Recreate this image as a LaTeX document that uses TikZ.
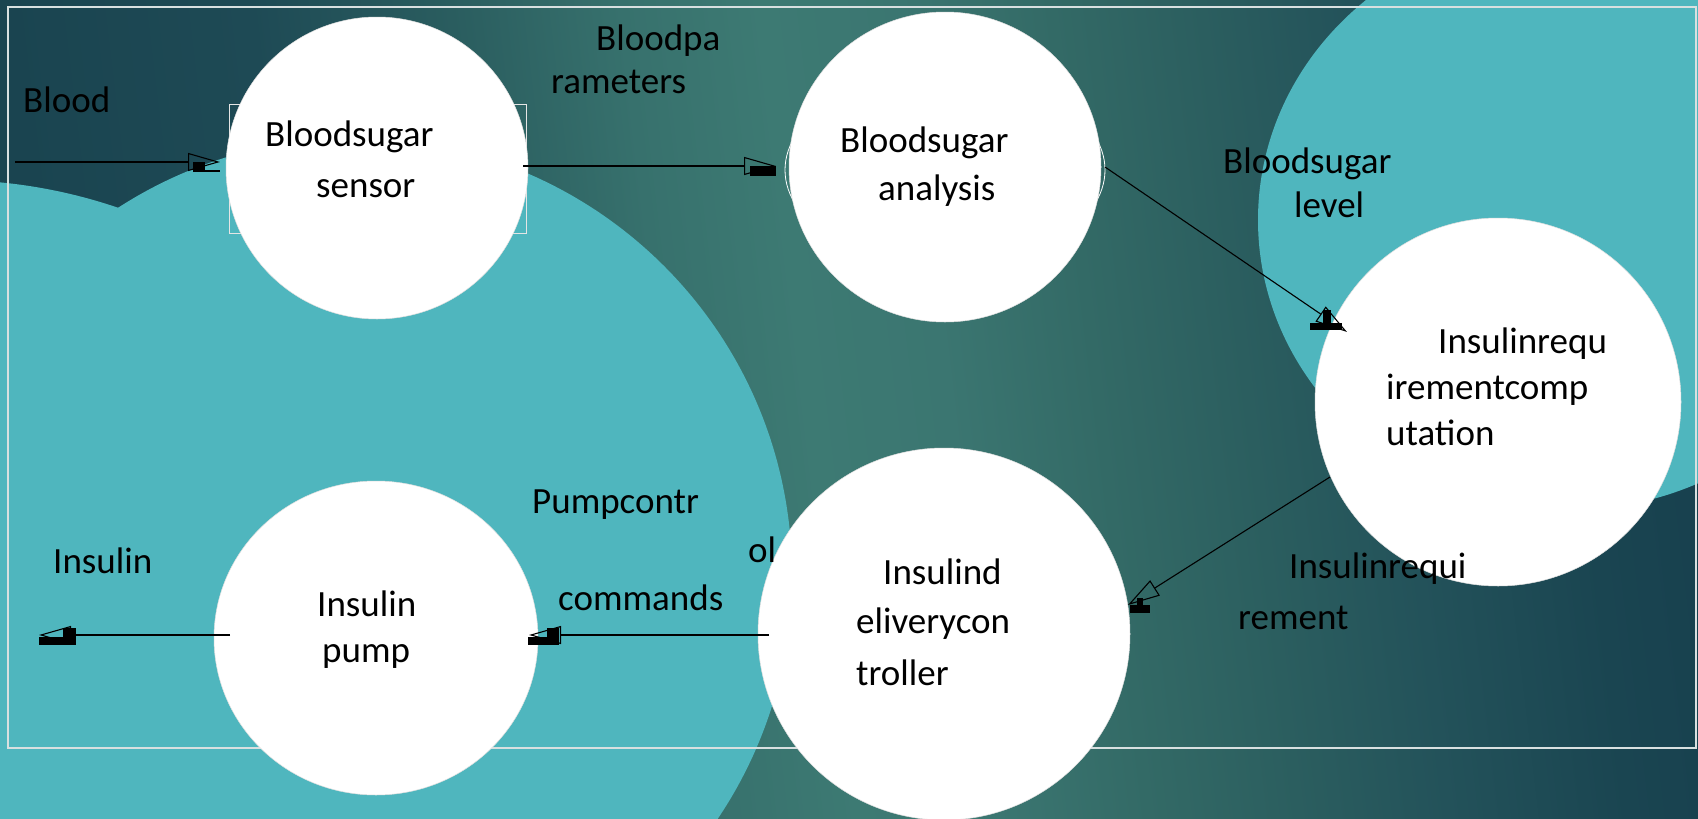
\documentclass[tikz,border=0pt]{standalone}
\usepackage{fontspec}
\setmainfont{Carlito}
\usetikzlibrary{arrows.meta,shapes.geometric}
\definecolor{blob}{HTML}{4FB6BE}
\definecolor{framec}{HTML}{D8E0E0}
\definecolor{g0}{HTML}{1A4450}
\definecolor{g1}{HTML}{1E4A55}
\definecolor{g2}{HTML}{2A5D5F}
\definecolor{g3}{HTML}{37716D}
\definecolor{g4}{HTML}{3D7A73}
\definecolor{g5}{HTML}{3B7671}
\definecolor{g6}{HTML}{336A66}
\definecolor{g7}{HTML}{2B5E5F}
\definecolor{g8}{HTML}{23525A}
\definecolor{g9}{HTML}{1A4551}
\definecolor{g10}{HTML}{163E4D}
\pgfdeclarehorizontalshading{bgsh}{100bp}{color(0bp)=(g0); color(28.75bp)=(g0); color(35bp)=(g1); color(40bp)=(g2); color(44.25bp)=(g3); color(47.75bp)=(g4); color(51.25bp)=(g5); color(55bp)=(g6); color(58.75bp)=(g7); color(62.5bp)=(g8); color(67bp)=(g9); color(71.2bp)=(g10); color(100bp)=(g10)}
\begin{document}
\begin{tikzpicture}[x=1pt,y=-1pt,
  lbl/.style={anchor=base west, inner sep=0pt, font=\fontsize{37}{44}\selectfont},
  bubble/.style={ellipse, fill=white, draw=white!75!gray, line width=0.5pt, inner sep=0pt},
  flow/.style={line width=1.1pt, -{Triangle[open, length=32pt, width=18pt]}},
  glyph/.style={fill=black},
]
\useasboundingbox (0,0) rectangle (1698,819);
% background
\begin{scope}
\clip (0,0) rectangle (1698,819);
\shade[shading=bgsh, transform canvas={xslant=-0.12}] (-150,-60) rectangle (1850,880);
\end{scope}
\fill[blob] (355,575) circle[radius=437];
\fill[blob] (-50,700) circle[radius=520];
\fill[blob] (1568,220) ellipse[x radius=310, y radius=290];
% frame
\draw[framec, line width=1.5pt] (8,7) rectangle (1696,748);
% decorations behind bubbles
\draw[white!80!gray, line width=0.8pt] (229,104) rectangle (526,233);
\draw[white, line width=0.8pt] (945,170) ellipse[x radius=160, y radius=96];
% bubbles
\node[bubble, minimum width=302, minimum height=302] (sensor) at (377,168) {};
\node[bubble, minimum width=312, minimum height=310] (analysis) at (945,167) {};
\node[bubble, minimum width=366, minimum height=368] (compute) at (1498,402) {};
\node[bubble, minimum width=372, minimum height=372] (control) at (944,634) {};
\node[bubble, minimum width=324, minimum height=314] (pump) at (376,638) {};
% connector end points
\coordinate (bloodIn) at (15,162);
\coordinate (sensorIn) at (220,162);
\coordinate (sensorOut) at (523,166);
\coordinate (analysisIn) at (776,166);
\coordinate (analysisOut) at (1105,167);
\coordinate (computeIn) at (1347,332);
\coordinate (computeOut) at (1330,477);
\coordinate (controlIn) at (1128,605);
\coordinate (controlOut) at (769,635);
\coordinate (pumpIn) at (529,635);
\coordinate (pumpOut) at (230,635);
\coordinate (insulinOut) at (39,635);
% connectors
\draw[flow] (bloodIn) -- (sensorIn);
\fill[glyph] (193,162) rectangle (205,171);
\draw[line width=1.1pt] (193,171) -- (220,171);
\draw[flow] (sensorOut) -- (analysisIn);
\fill[glyph] (750,166) rectangle (776,176);
\draw[flow] (analysisOut) -- (computeIn);
\fill[glyph] (1310,323) rectangle (1342,330);
\fill[glyph] (1323,310) rectangle (1331,323);
\draw[flow] (computeOut) -- (controlIn);
\fill[glyph] (1130,605) rectangle (1150,613);
\fill[glyph] (1137,598) rectangle (1143,605);
\draw[flow] (controlOut) -- (pumpIn);
\fill[glyph] (528,637) rectangle (559,645);
\fill[glyph] (547,628) rectangle (559,637);
\draw[flow] (pumpOut) -- (insulinOut);
\fill[glyph] (39,637) rectangle (76,645);
\fill[glyph] (63,628) rectangle (76,637);
% labels
\node[lbl] (tBlood) at (23,112) {Blood};
\node[lbl] (tS1) at (265,146) {Bloodsugar};
\node[lbl] (tS2) at (316,197) {sensor};
\node[lbl] (tBp1) at (596,50) {Bloodpa};
\node[lbl] (tBp2) at (551,93) {rameters};
\node[lbl] (tA1) at (840,152) {Bloodsugar};
\node[lbl] (tA2) at (878,200) {analysis};
\node[lbl] (tL1) at (1223,173) {Bloodsugar};
\node[lbl] (tL2) at (1294,217) {level};
\node[lbl] (tC1) at (1438,353) {Insulinrequ};
\node[lbl] (tC2) at (1386,399) {irementcomp};
\node[lbl] (tC3) at (1386,445) {utation};
\node[lbl] (tD1) at (883,584) {Insulind};
\node[lbl] (tD2) at (856,633) {eliverycon};
\node[lbl] (tD3) at (856,685) {troller};
\node[lbl] (tP1) at (532,513) {Pumpcontr};
\node[lbl] (tP2) at (748,562) {ol};
\node[lbl] (tP3) at (558,610) {commands};
\node[lbl] (tU1) at (317,616) {Insulin};
\node[lbl] (tU2) at (322,662) {pump};
\node[lbl] (tI) at (53,573) {Insulin};
\node[lbl] (tR1) at (1289,578) {Insulinrequi};
\node[lbl] (tR2) at (1238,629) {rement};
\end{tikzpicture}
\end{document}
